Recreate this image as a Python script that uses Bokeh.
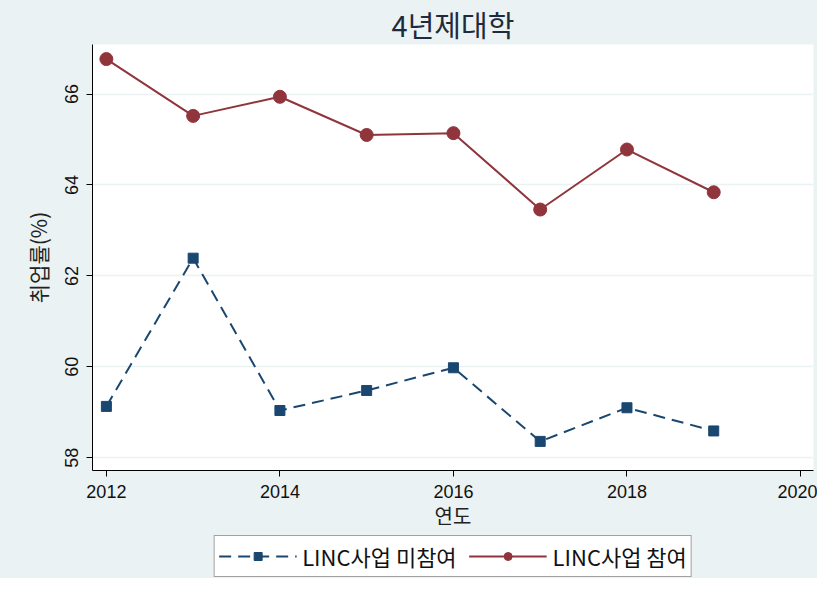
from bokeh.plotting import figure
from bokeh.layouts import column
from bokeh.models import Range1d, FixedTicker, Legend, LegendItem
from bokeh.embed import file_html
from bokeh.resources import INLINE

years = [2012, 2013, 2014, 2015, 2016, 2017, 2018, 2019]
non_linc = [59.13, 62.39, 59.04, 59.48, 59.98, 58.36, 59.10, 58.59]
linc = [66.77, 65.52, 65.94, 65.10, 65.14, 63.46, 64.78, 63.84]
x_ticks = [2012, 2014, 2016, 2018, 2020]
y_ticks = [58, 60, 62, 64, 66]
title_text = "4년제대학"
x_label = "연도"
y_label = "취업률(%)"
series_names = ["LINC사업 미참여", "LINC사업 참여"]

KFONT = "Noto Sans CJK KR"
NFONT = "Liberation Sans"
BG = "#EAF2F3"
NAVY = "#1A476F"
MAROON = "#90353B"
DASH = "12 7"

p = figure(width=817, height=533, output_backend="svg", toolbar_location=None,
           x_range=Range1d(2011.84, 2020.15), y_range=Range1d(57.72, 67.09),
           min_border_left=92, min_border_right=4, min_border_top=43, min_border_bottom=63)
p.background_fill_color = "white"
p.border_fill_color = BG
p.outline_line_color = None

p.title.text = title_text
p.title.align = "center"
p.title.text_font = KFONT
p.title.text_font_size = "29px"
p.title.text_font_style = "normal"
p.title.text_color = "#1f2a3c"
p.title.standoff = 0

# axes
p.xaxis.ticker = FixedTicker(ticks=x_ticks)
p.yaxis.ticker = FixedTicker(ticks=y_ticks)
for ax in (p.xaxis, p.yaxis):
    ax.axis_line_color = "black"
    ax.axis_line_width = 1
    ax.major_tick_line_color = "black"
    ax.major_tick_in = 0
    ax.major_tick_out = 6
    ax.minor_tick_line_color = None
    ax.major_label_text_font = NFONT
    ax.major_label_text_font_size = "18px"
    ax.major_label_text_color = "#111111"
    ax.axis_label_text_font = KFONT
    ax.axis_label_text_font_style = "normal"
    ax.axis_label_text_color = "#222222"
p.yaxis.major_label_orientation = "vertical"
p.xaxis.axis_label = x_label
p.yaxis.axis_label = y_label
p.xaxis.axis_label_text_font_size = "20px"
p.yaxis.axis_label_text_font_size = "21px"
p.xaxis.major_label_standoff = 8
p.yaxis.major_label_standoff = 8
p.xaxis.axis_label_standoff = 0
p.yaxis.axis_label_standoff = 10

p.xgrid.grid_line_color = None
p.ygrid.grid_line_color = BG
p.ygrid.grid_line_width = 1.5

p.line(years, non_linc, line_color=NAVY, line_width=2, line_dash=DASH)
p.scatter(years, non_linc, marker="square", size=10, fill_color=NAVY, line_color=NAVY)
p.line(years, linc, line_color=MAROON, line_width=2)
p.scatter(years, linc, marker="circle", size=13, fill_color=MAROON, line_color=MAROON)

# legend strip below the chart (own canvas, same background)
q = figure(width=817, height=45, output_backend="svg", toolbar_location=None,
           x_range=Range1d(0, 1), y_range=Range1d(0, 1),
           x_axis_type=None, y_axis_type=None, min_border=0)
q.background_fill_color = BG
q.border_fill_color = BG
q.outline_line_color = None
q.xgrid.grid_line_color = None
q.ygrid.grid_line_color = None
# legend sample renderers (data lies outside this strip's visible range)
ql1 = q.line(years, non_linc, line_color=NAVY, line_width=2, line_dash=DASH)
qs1 = q.scatter(years, non_linc, marker="square", size=10, fill_color=NAVY, line_color=NAVY)
ql2 = q.line(years, linc, line_color=MAROON, line_width=2)
qs2 = q.scatter(years, linc, marker="circle", size=13, fill_color=MAROON, line_color=MAROON)

legend = Legend(items=[LegendItem(label=series_names[0], renderers=[ql1, qs1]),
                       LegendItem(label=series_names[1], renderers=[ql2, qs2])],
                orientation="horizontal", location="center")
legend.label_text_font = KFONT
legend.label_text_font_size = "22px"
legend.label_text_line_height = 1.0
legend.label_text_color = "#111111"
legend.glyph_width = 78
legend.glyph_height = 20
legend.label_standoff = 6
legend.spacing = 12
legend.padding = 4
legend.margin = 0
legend.border_line_color = "#444444"
legend.border_line_width = 1
legend.background_fill_color = "white"
legend.background_fill_alpha = 1
q.add_layout(legend, "center")

layout = column(p, q, spacing=0)
layout.styles = {"background-color": BG}
open("out.html", "w").write(file_html(layout, INLINE))
